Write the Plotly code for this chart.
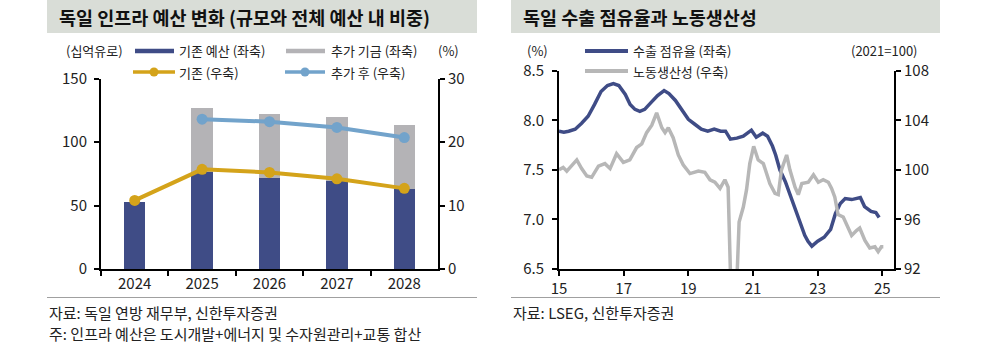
import plotly.graph_objects as go

# ---------------- Left chart data ----------------
years = ["2024", "2025", "2026", "2027", "2028"]
base_budget = [53, 76.5, 71.5, 69.5, 63]          # 기존 예산 (좌축)
extra_fund = [0, 50.5, 50.5, 50.5, 50]            # 추가 기금 (좌축)
base_share = [10.8, 15.7, 15.2, 14.2, 12.7]       # 기존 (우축)
after_share = [None, 23.6, 23.2, 22.3, 20.7]      # 추가 후 (우축)

# ---------------- Right chart data ----------------
share_x = [15.0, 15.15, 15.3, 15.5, 15.7, 15.9, 16.1, 16.3, 16.5, 16.68, 16.85,
           17.05, 17.2, 17.35, 17.5, 17.65, 17.85, 18.05, 18.25, 18.4, 18.6, 18.8,
           19.0, 19.2, 19.4, 19.6, 19.8, 20.0, 20.15, 20.3, 20.5, 20.7, 20.95,
           21.1, 21.3, 21.45, 21.6, 21.7, 21.83, 22.0, 22.15, 22.3, 22.45, 22.6,
           22.7, 22.82, 23.0, 23.2, 23.4, 23.55, 23.7, 23.85, 24.05, 24.25, 24.32,
           24.45, 24.65, 24.8, 24.9]
share_y = [7.89, 7.88, 7.89, 7.91, 7.97, 8.04, 8.16, 8.29, 8.35, 8.37, 8.35,
           8.26, 8.16, 8.11, 8.09, 8.11, 8.18, 8.25, 8.30, 8.27, 8.20, 8.10,
           8.01, 7.96, 7.91, 7.89, 7.91, 7.89, 7.89, 7.81, 7.82, 7.84, 7.90,
           7.83, 7.87, 7.84, 7.74, 7.65, 7.50, 7.38, 7.24, 7.12, 6.98, 6.84,
           6.78, 6.73, 6.78, 6.82, 6.90, 7.06, 7.16, 7.21, 7.20, 7.21, 7.22,
           7.13, 7.08, 7.07, 7.02]

prod_x = [15.0, 15.13, 15.24, 15.4, 15.55, 15.7, 15.86, 16.01, 16.22, 16.42, 16.58,
          16.78, 16.99, 17.19, 17.4, 17.56, 17.71, 17.87, 18.02, 18.18, 18.28, 18.38,
          18.53, 18.69, 18.84, 19.05, 19.31, 19.51, 19.67, 19.82, 19.98, 20.13, 20.23,
          20.33, 20.42, 20.5, 20.57, 20.7, 20.8, 20.9, 21.02, 21.16, 21.32, 21.42,
          21.52, 21.68, 21.78, 21.88, 22.04, 22.14, 22.3, 22.4, 22.51, 22.71, 22.87,
          23.02, 23.17, 23.33, 23.43, 23.53, 23.63, 23.79, 23.94, 24.05, 24.2, 24.3,
          24.46, 24.61, 24.77, 24.87, 24.97, 25.03]
prod_y = [100.0, 100.2, 99.9, 100.4, 100.8, 100.1, 99.5, 99.4, 100.3, 100.5, 100.1,
          101.3, 100.6, 100.8, 101.8, 102.1, 103.0, 103.6, 104.6, 103.4, 103.0, 103.4,
          102.6, 101.2, 100.4, 99.7, 99.9, 99.8, 99.2, 99.0, 98.5, 99.2, 98.6,
          89.0, 86.0, 91.0, 95.8, 97.0, 98.4, 100.5, 101.9, 100.8, 100.5, 99.7,
          98.9, 98.1, 98.0, 100.0, 101.2, 100.0, 98.6, 98.0, 98.9, 99.0, 99.6,
          99.0, 99.2, 99.0, 98.5, 97.8, 96.4, 96.2, 95.4, 94.7, 95.1, 95.3,
          94.3, 93.7, 93.8, 93.4, 93.8, 93.8]

share_ticks = [15, 17, 19, 21, 23, 25]

# ---------------- Styles ----------------
W, H = 982, 358
NAVY = "#3F4C86"
BGRAY = "#B4B3B6"
YELLOW = "#D4A31A"
LBLUE = "#72A3CB"
LGRAY = "#B7B7B7"
TITLE_BG = "#D9DDD7"
FONT = "Noto Sans CJK KR"


def px(x):
    return x / W


def py(y):
    return 1 - y / H


fig = go.Figure()

fig.add_trace(go.Bar(x=years, y=base_budget, marker=dict(color=NAVY, line=dict(width=0)),
                     width=0.32, xaxis="x", yaxis="y", name="기존 예산 (좌축)"))
fig.add_trace(go.Bar(x=years, y=extra_fund, marker=dict(color=BGRAY, line=dict(width=0)),
                     width=0.32, xaxis="x", yaxis="y", name="추가 기금 (좌축)"))
fig.add_trace(go.Scatter(x=years, y=base_share, mode="lines+markers",
                         line=dict(color=YELLOW, width=4), marker=dict(color=YELLOW, size=11),
                         xaxis="x", yaxis="y2", name="기존 (우축)"))
fig.add_trace(go.Scatter(x=years, y=after_share, mode="lines+markers",
                         line=dict(color=LBLUE, width=4), marker=dict(color=LBLUE, size=11),
                         xaxis="x", yaxis="y2", name="추가 후 (우축)"))

fig.add_trace(go.Scatter(x=share_x, y=share_y, mode="lines",
                         line=dict(color=NAVY, width=3.5), xaxis="x3", yaxis="y3",
                         name="수출 점유율 (좌축)"))
fig.add_trace(go.Scatter(x=prod_x, y=prod_y, mode="lines",
                         line=dict(color=LGRAY, width=3.5), xaxis="x3", yaxis="y4",
                         name="노동생산성 (우축)"))

axis_common = dict(showgrid=False, zeroline=False, showline=True, linecolor="black",
                   linewidth=2, ticks="outside", tickcolor="black", tickwidth=2,
                   ticklen=5, automargin=False,
                   tickfont=dict(family=FONT, size=15, color="#222"))

fig.update_layout(
    width=W, height=H,
    margin=dict(l=0, r=0, t=0, b=0, pad=0, autoexpand=False),
    paper_bgcolor="white", plot_bgcolor="white",
    showlegend=False, barmode="stack",
    font=dict(family=FONT, color="#222"),
    xaxis=dict(domain=[px(101), px(438)], anchor="y", type="category",
               range=[-0.5, 4.5], tickson="boundaries", **axis_common),
    yaxis=dict(domain=[py(269), py(78.5)], anchor="x", range=[0, 150], dtick=50,
               ticklabelstandoff=4, **axis_common),
    yaxis2=dict(overlaying="y", side="right", anchor="x", range=[0, 30], dtick=10,
                **axis_common),
    xaxis3=dict(domain=[px(559), px(894)], anchor="y3", range=[15, 25.36],
                tickvals=share_ticks, **axis_common),
    yaxis3=dict(domain=[py(269), py(70.7)], anchor="x3", range=[6.5, 8.5], dtick=0.5,
                tickformat=".1f", ticklabelstandoff=5, **axis_common),
    yaxis4=dict(overlaying="y3", side="right", anchor="x3", range=[92, 108], dtick=4,
                **axis_common),
)

shapes = []
annotations = []

# Title boxes
for x0, x1, txt in [(47, 477, "독일 인프라 예산 변화 (규모와 전체 예산 내 비중)"),
                    (511, 940, "독일 수출 점유율과 노동생산성")]:
    shapes.append(dict(type="rect", xref="paper", yref="paper", x0=px(x0), x1=px(x1),
                       y0=py(33), y1=py(0), fillcolor=TITLE_BG, line=dict(width=0), layer="below"))
    annotations.append(dict(xref="paper", yref="paper", x=px(x0 + 10), y=py(17),
                            xanchor="left", yanchor="middle", showarrow=False, text=f"<b>{txt}</b>",
                            font=dict(family=FONT, size=18.5, color="#111")))
    # separator lines
    shapes.append(dict(type="line", xref="paper", yref="paper", x0=px(x0), x1=px(x1),
                       y0=py(297.5), y1=py(297.5), line=dict(color="#A0A0A0", width=1)))


def txt(x, y, s, anchor="left", size=13):
    annotations.append(dict(xref="paper", yref="paper", x=px(x), y=py(y), xanchor=anchor,
                            yanchor="middle", showarrow=False, text=s,
                            font=dict(family=FONT, size=size, color="#222")))


def hline(x0, x1, y, color, width):
    shapes.append(dict(type="line", xref="paper", yref="paper", x0=px(x0), x1=px(x1),
                       y0=py(y), y1=py(y), line=dict(color=color, width=width)))


def dot(cx, cy, r, color):
    shapes.append(dict(type="circle", xref="paper", yref="paper", x0=px(cx - r), x1=px(cx + r),
                       y0=py(cy + r), y1=py(cy - r), fillcolor=color, line=dict(width=0)))


# Left legend
txt(94, 51, "(십억유로)", anchor="center")
hline(135, 174, 51, NAVY, 4.5)
txt(177, 51, "기존 예산 (좌축)")
hline(286, 325, 51, BGRAY, 4.5)
txt(329, 51, "추가 기금 (좌축)")
txt(448, 51, "(%)", anchor="center")
hline(133, 175, 72, YELLOW, 3.5)
dot(154, 72, 4.5, YELLOW)
txt(177, 72, "기존 (우축)")
hline(285, 325, 72, LBLUE, 3.5)
dot(305, 72, 4.5, LBLUE)
txt(329, 72, "추가 후 (우축)")

# Right legend
txt(537, 51, "(%)", anchor="center")
txt(884, 51, "(2021=100)", anchor="center")
hline(585, 628, 51, NAVY, 4)
txt(631, 51, "수출 점유율 (좌축)")
hline(585, 628, 71, LGRAY, 4)
txt(631, 71, "노동생산성 (우축)")

# Footnotes
txt(47, 312, "자료: 독일 연방 재무부, 신한투자증권", size=15)
txt(47, 333, "주: 인프라 예산은 도시개발+에너지 및 수자원관리+교통 합산", size=15)
txt(511, 312, "자료: LSEG, 신한투자증권", size=15)

fig.update_layout(shapes=shapes, annotations=annotations)
fig.write_html("out.html",
               config={"displayModeBar": False},
               post_script="document.body.style.margin='0px';document.body.style.overflow='hidden';")
